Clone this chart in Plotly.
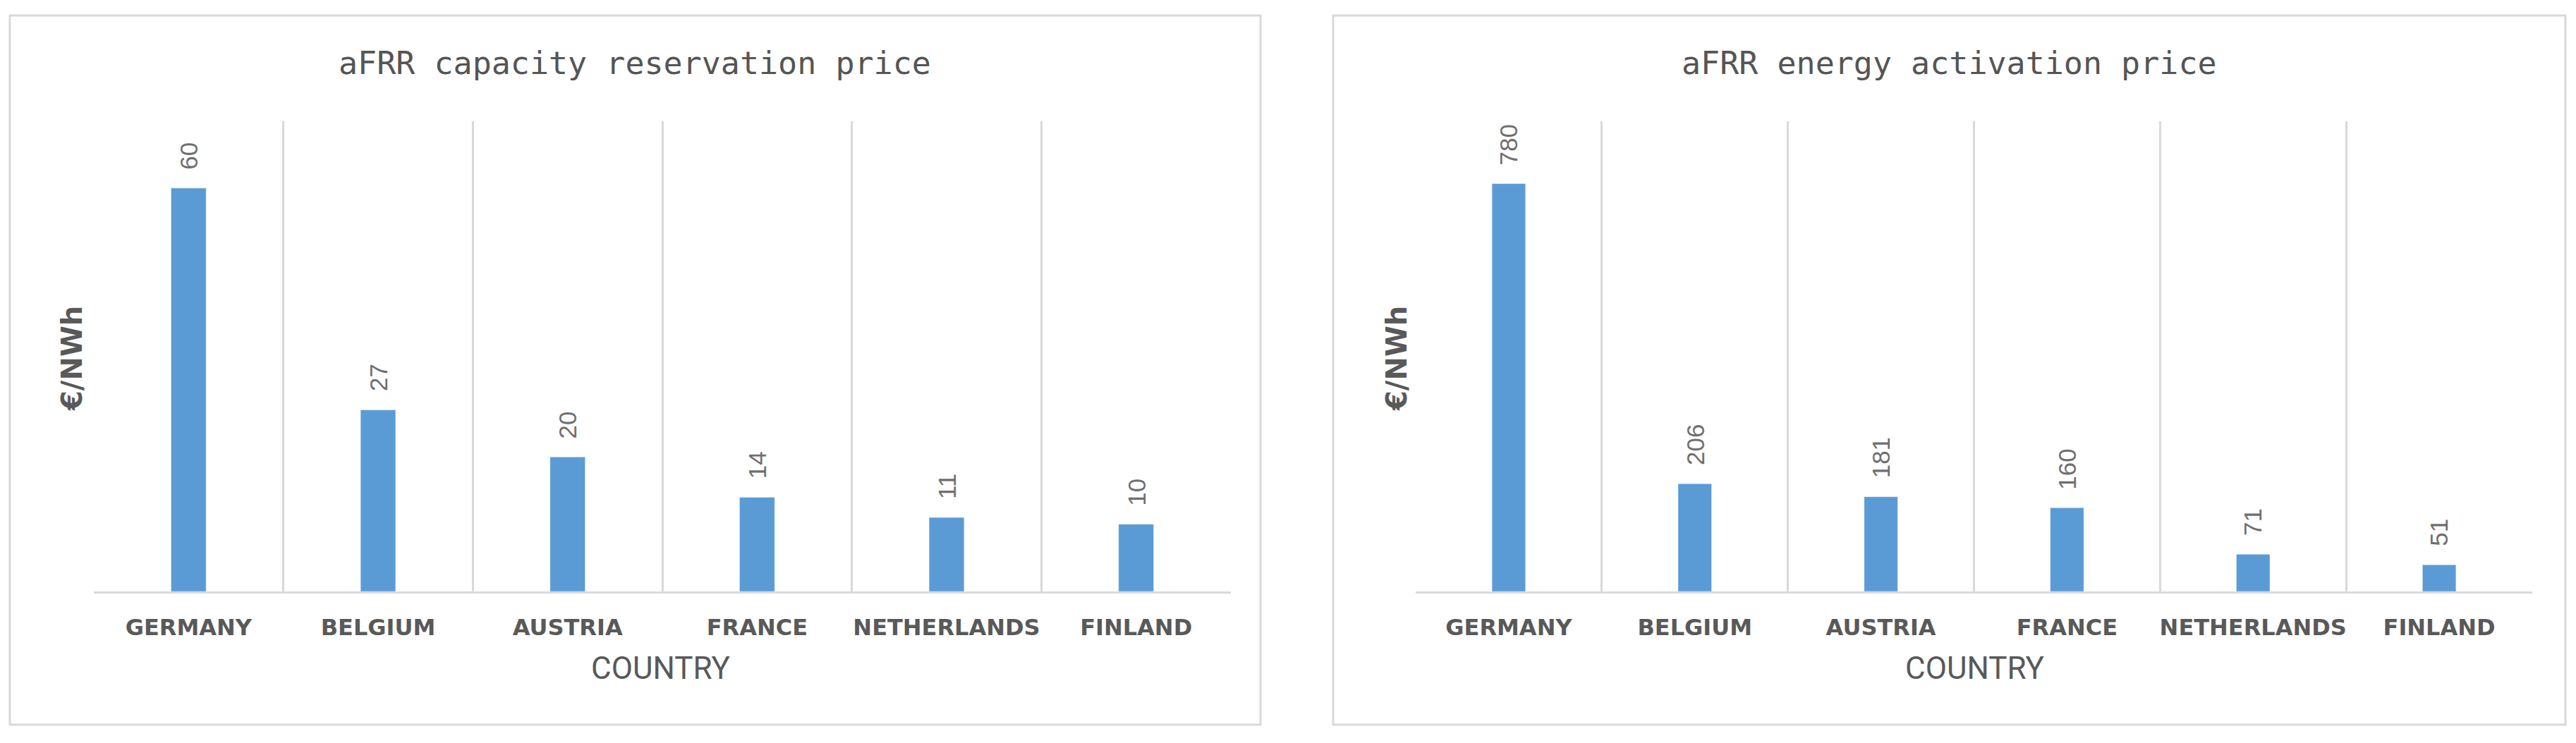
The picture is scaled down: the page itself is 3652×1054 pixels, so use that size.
import plotly.graph_objects as go

countries = ["GERMANY", "BELGIUM", "AUSTRIA", "FRANCE", "NETHERLANDS", "FINLAND"]
capacity_price = [60, 27, 20, 14, 11, 10]
energy_price = [780, 206, 181, 160, 71, 51]

title_left = "aFRR capacity reservation price"
title_right = "aFRR energy activation price"
y_title = "€/NWh"
x_title = "COUNTRY"

W, H = 3652, 1054
OFF = 8  # page body margin
BAR = "#5b9bd5"
GRID = "#d9d9d9"
TXT = "#595959"
LBL = "#6f6f6f"

fig = go.Figure()
fig.add_trace(go.Bar(x=countries, y=capacity_price, marker_color=BAR, width=0.185,
                     xaxis="x", yaxis="y", showlegend=False, hoverinfo="x+y"))
fig.add_trace(go.Bar(x=countries, y=energy_price, marker_color=BAR, width=0.18,
                     xaxis="x2", yaxis="y2", showlegend=False, hoverinfo="x+y"))


def px(x):
    return (x - OFF) / W


def py(y):
    return (H - (y - OFF)) / H


ydom = [py(839), py(171.5)]
xcommon = dict(type="category", tickson="boundaries", showgrid=True, gridcolor=GRID,
               gridwidth=2.5, showline=True, linecolor=GRID, linewidth=3,
               ticks="", range=[-0.5, 5.5], ticklabelstandoff=21, tickangle=0,
               automargin=False,
               tickfont=dict(family="DejaVu Sans", size=32, color=TXT, weight="bold"),
               zeroline=False, fixedrange=True)
ycommon = dict(showgrid=False, showticklabels=False, showline=False, zeroline=False,
               ticks="", fixedrange=True, automargin=False)

fig.update_layout(
    width=W, height=H, margin=dict(l=0, r=0, t=0, b=0, pad=0, autoexpand=False),
    paper_bgcolor="white", plot_bgcolor="white",
    xaxis=dict(domain=[px(133), px(1745)], anchor="y", **xcommon),
    yaxis=dict(domain=ydom, anchor="x", range=[0, 70], **ycommon),
    xaxis2=dict(domain=[px(2007), px(3590)], anchor="y2", **xcommon),
    yaxis2=dict(domain=ydom, anchor="x2", range=[0, 900], **ycommon),
)

shapes = []
for x0, x1 in [(14, 1787), (1890, 3637)]:
    shapes.append(dict(type="rect", xref="paper", yref="paper",
                       x0=px(x0), x1=px(x1), y0=py(1028), y1=py(22),
                       line=dict(color=GRID, width=3), fillcolor="rgba(0,0,0,0)", layer="below"))
fig.update_layout(shapes=shapes)

ann = []
# panel titles
for title, cx in [(title_left, 900), (title_right, 2763)]:
    ann.append(dict(text=title, xref="paper", yref="paper", x=px(cx), y=py(90),
                    xanchor="center", yanchor="middle", showarrow=False,
                    font=dict(family="DejaVu Sans Mono", size=45, color="#555555")))
# x axis titles
for cx in [937, 2800]:
    ann.append(dict(text=x_title, xref="paper", yref="paper", x=px(cx), y=py(948),
                    xanchor="center", yanchor="middle", showarrow=False,
                    font=dict(family="Roboto, sans-serif", size=44, color=TXT)))
# y axis titles
for cx in [102, 1980]:
    ann.append(dict(text=y_title, xref="paper", yref="paper", x=px(cx), y=py(508),
                    xanchor="center", yanchor="middle", showarrow=False, textangle=-90,
                    font=dict(family="DejaVu Sans", size=40, color=TXT, weight="bold")))
# data labels
for xr, yr, vals in [("x", "y", capacity_price), ("x2", "y2", energy_price)]:
    for c, v in zip(countries, vals):
        ann.append(dict(text=str(v), xref=xr, yref=yr, x=c, y=v, xanchor="center",
                        yanchor="bottom", yshift=24, textangle=-90, showarrow=False,
                        font=dict(family="Liberation Sans, Arial, sans-serif", size=35, color=LBL)))
fig.update_layout(annotations=ann)

fig.write_html("out.html")
